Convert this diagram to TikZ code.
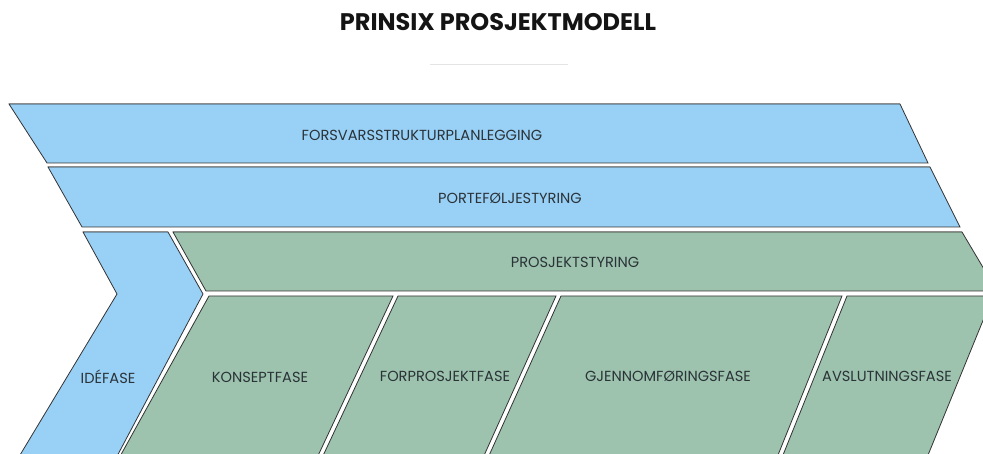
\documentclass[tikz,border=0pt]{standalone}
\usepackage{fontspec}
\setmainfont{Poppins}
\definecolor{bl}{HTML}{99D0F6}
\definecolor{gr}{HTML}{9DC3AE}
\definecolor{tx}{HTML}{2A3338}
\definecolor{rule}{HTML}{E4E4E4}
\tikzset{
  blueshape/.style={fill=bl, draw=black!80, line width=0.8pt},
  greenshape/.style={fill=gr, draw=black!80, line width=0.8pt},
  topedge/.style={draw=black!45, line width=1pt},
  lbl/.style={font=\fontsize{14.6}{16}\selectfont, text=tx, inner sep=0pt},
  ttl/.style={font=\fontsize{24}{28}\selectfont\bfseries, text=black!92, inner sep=0pt}
}
\begin{document}
\begin{tikzpicture}[x=1pt,y=-1pt]
\useasboundingbox (0,0) rectangle (983,454);
\begin{scope}
\clip (0,0) rectangle (983,454);
% top bands
\path[blueshape] (9,104) -- (900,104) -- (928,163) -- (47,163) -- cycle;
\draw[topedge] (9,104) -- (900,104);
\path[blueshape] (48,167) -- (930,167) -- (960,227) -- (82,227) -- cycle;
\draw[topedge] (48,167) -- (930,167);
% idefase chevron
\path[blueshape] (83,232) -- (168,232) -- (203,294) -- (115,460) -- (17,460) -- (117,294) -- cycle;
\draw[topedge] (83,232) -- (168,232);
% prosjektstyring band
\path[greenshape] (173,232) -- (962,232) -- (997,291) -- (206,291) -- cycle;
\draw[topedge] (173,232) -- (962,232);
% phases
\path[greenshape] (209,296) -- (393,296) -- (316,460) -- (118,460) -- cycle;
\path[greenshape] (398,296) -- (556,296) -- (482,460) -- (321,460) -- cycle;
\path[greenshape] (561,296) -- (842,296) -- (776,460) -- (487,460) -- cycle;
\path[greenshape] (847,296) -- (993,296) -- (926,460) -- (781,460) -- cycle;
\end{scope}
% title
\node[ttl] (title) at (498,22) {PRINSIX PROSJEKTMODELL};
\draw[rule, line width=1pt] (430,65) coordinate (r1) -- (568,65) coordinate (r2);
% labels
\node[lbl] (forsvar) at (422,135) {FORSVARSSTRUKTURPLANLEGGING};
\node[lbl] (portef) at (510,198) {PORTEFØLJESTYRING};
\node[lbl] (prosj) at (575,262) {PROSJEKTSTYRING};
\node[lbl] (ide) at (108,377) {IDÉFASE};
\node[lbl] (konsept) at (260,377) {KONSEPTFASE};
\node[lbl] (forpro) at (445,376) {FORPROSJEKTFASE};
\node[lbl] (gjennom) at (668,376) {GJENNOMFØRINGSFASE};
\node[lbl] (avslut) at (887,376) {AVSLUTNINGSFASE};
\end{tikzpicture}
\end{document}
